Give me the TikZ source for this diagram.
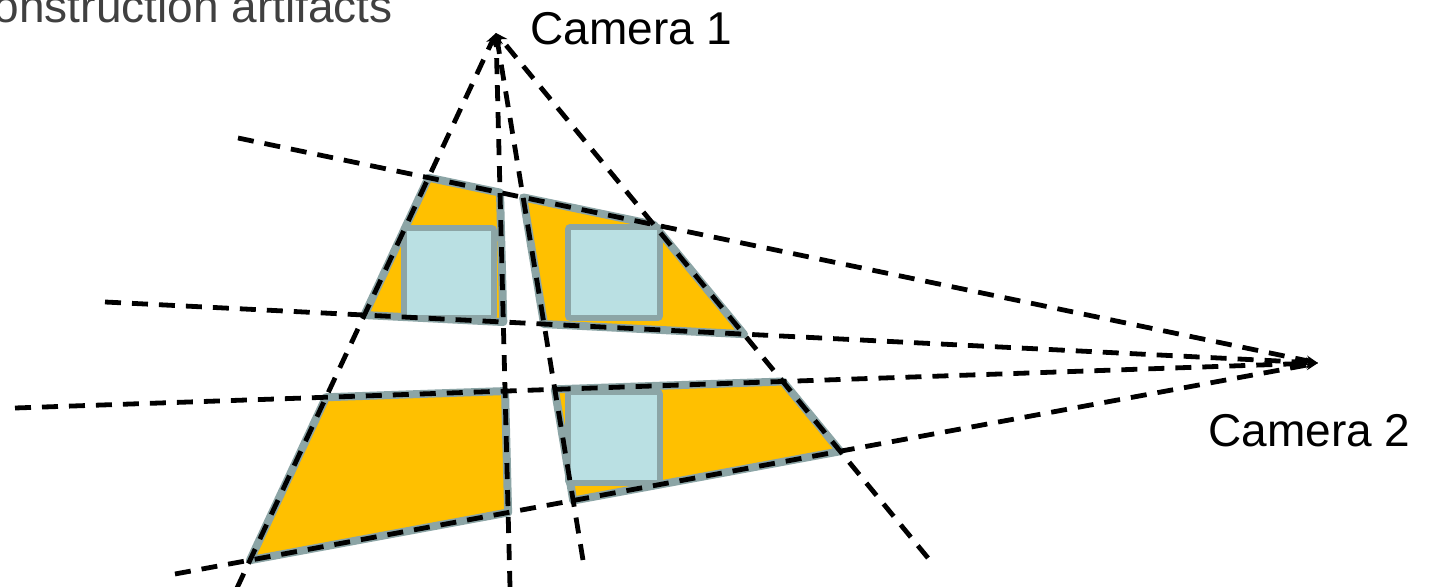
\documentclass[tikz,border=0pt]{standalone}
\usepackage{fontspec}
\setmainfont{Liberation Sans}
\usepackage{xcolor}
\usepackage{tikz}
\usetikzlibrary{arrows.meta,calc}

\definecolor{cellorange}{RGB}{255,192,0}
\definecolor{overlapblue}{RGB}{186,224,227}
\definecolor{rimgray}{RGB}{140,165,166}
\definecolor{titlegray}{RGB}{64,64,64}

\begin{document}
\begin{tikzpicture}[x=0.5pt, y=-0.5pt,
  ray/.style={line width=2.4pt, dash pattern=on 8pt off 5.5pt, -{Stealth[length=6pt,width=5pt]}},
  cell/.style={fill=cellorange, draw=rimgray, line width=4pt, line join=round},
  overlap/.style={fill=overlapblue, draw=rimgray, line width=2.8pt, rounded corners=1pt},
  lbl/.style={font=\fontsize{23}{27}\selectfont, inner sep=0pt}]
\useasboundingbox (0,0) rectangle (1431,587);

\coordinate (cam1) at (496,33);
\coordinate (cam2) at (1318,363);

% far ends of the rays
\coordinate (a) at (237,588);
\coordinate (b) at (510,587);
\coordinate (c) at (583,560);
\coordinate (d) at (928,558);
\coordinate (e) at (238,138);
\coordinate (f) at (105,302);
\coordinate (g) at (15,408);
\coordinate (h) at (175,574);

% reconstructed cells
\draw[cell] (intersection of cam1--a and cam2--e) -- (intersection of cam1--b and cam2--e)
  -- (intersection of cam1--b and cam2--f) -- (intersection of cam1--a and cam2--f) -- cycle;
\draw[cell] (intersection of cam1--c and cam2--e) -- (intersection of cam1--d and cam2--e)
  -- (intersection of cam1--d and cam2--f) -- (intersection of cam1--c and cam2--f) -- cycle;
\draw[cell] (intersection of cam1--a and cam2--g) -- (intersection of cam1--b and cam2--g)
  -- (intersection of cam1--b and cam2--h) -- (intersection of cam1--a and cam2--h) -- cycle;
\draw[cell] (intersection of cam1--c and cam2--g) -- (intersection of cam1--d and cam2--g)
  -- (intersection of cam1--d and cam2--h) -- (intersection of cam1--c and cam2--h) -- cycle;

% real objects
\draw[overlap] (404,228) rectangle (494,318);
\draw[overlap] (568,227) rectangle (660,318);
\draw[overlap] (568,392) rectangle (660,483);

\foreach \p in {a,b,c,d}
  \draw[ray] (\p) -- (cam1);
\foreach \p in {e,f,g,h}
  \draw[ray] (\p) -- (cam2);

\node[lbl, anchor=base west] (lab1) at (530,45) {Camera 1};
\node[lbl, anchor=base west] (lab2) at (1208,447) {Camera 2};
\node[lbl, anchor=base east, text=titlegray] (title) at (393,23) {onstruction artifacts};
\end{tikzpicture}
\end{document}
